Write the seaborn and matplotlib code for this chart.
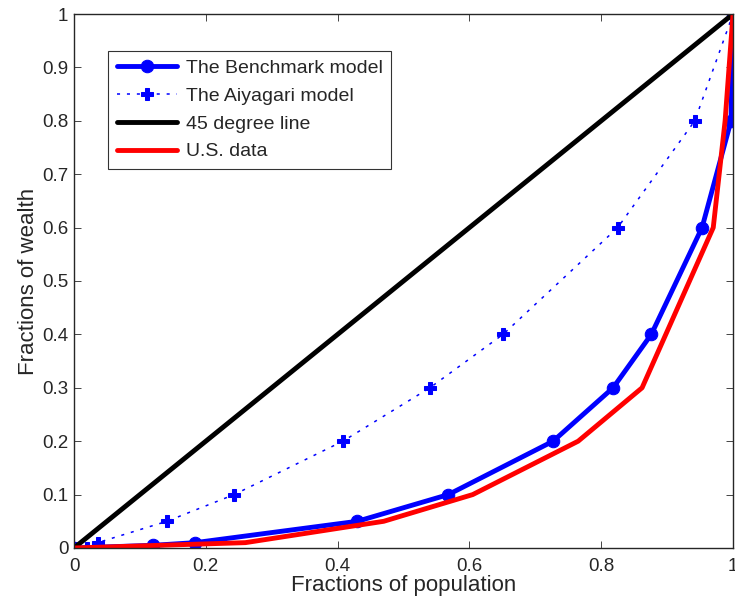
import numpy as np
import pandas as pd
import matplotlib
matplotlib.use('Agg')
import matplotlib.pyplot as plt
import seaborn as sns

# ==========================================
# 資料
# ==========================================
bench_x = [0.0, 0.12, 0.184, 0.43, 0.568, 0.727, 0.818, 0.876, 0.953, 0.997, 1.0]
bench_y = [0.0, 0.005, 0.01, 0.05, 0.1, 0.2, 0.3, 0.4, 0.6, 0.8, 1.0]

aiya_x = [0.0, 0.02, 0.036, 0.141, 0.243, 0.408, 0.54, 0.651, 0.825, 0.942, 1.0]
aiya_y = [0.0, 0.0, 0.01, 0.05, 0.1, 0.2, 0.3, 0.4, 0.6, 0.8, 1.0]

line45_x = [0.0, 1.0]
line45_y = [0.0, 1.0]

us_x = [0.0, 0.26, 0.47, 0.605, 0.765, 0.862, 0.97, 0.988, 1.0]
us_y = [0.0, 0.01, 0.05, 0.1, 0.2, 0.3, 0.6, 0.8, 1.0]

sns.set_style('ticks')
plt.rcParams['font.family'] = ['Liberation Sans', 'DejaVu Sans']

fig = plt.figure(figsize=(7.35, 6.12), dpi=100)
ax = fig.add_axes([0.1007, 0.1046, 0.8966, 0.8725])

sns.lineplot(x=bench_x, y=bench_y, sort=False, estimator=None, ax=ax,
             color='#0000ff', linewidth=3.5, marker='o', markersize=9,
             markeredgecolor='#0000ff', label='The Benchmark model')
sns.lineplot(x=aiya_x, y=aiya_y, sort=False, estimator=None, ax=ax,
             color='#0000ff', linewidth=1.1, linestyle=(0, (2, 4.5)),
             marker='P', markersize=9, markeredgecolor='#0000ff',
             label='The Aiyagari model')
sns.lineplot(x=line45_x, y=line45_y, sort=False, estimator=None, ax=ax,
             color='black', linewidth=3.5, label='45 degree line')
sns.lineplot(x=us_x, y=us_y, sort=False, estimator=None, ax=ax,
             color='#ff0000', linewidth=3.5, label='U.S. data')

ax.set_xlim(0, 1)
ax.set_ylim(0, 1)
ax.set_xticks(np.arange(0, 1.01, 0.2))
ax.set_xticklabels(['0', '0.2', '0.4', '0.6', '0.8', '1'])
ax.set_yticks(np.arange(0, 1.01, 0.1))
ax.set_yticklabels(['0', '0.1', '0.2', '0.3', '0.4', '0.5', '0.6', '0.7', '0.8', '0.9', '1'])
ax.tick_params(direction='in', top=True, right=True, labelsize=13.5,
               length=5, width=0.6)
ax.tick_params(axis='x', pad=7)
ax.tick_params(axis='y', pad=4)
for sp in ax.spines.values():
    sp.set_linewidth(1.0)
    sp.set_visible(True)
ax.set_xlabel('Fractions of population', fontsize=16, labelpad=0)
ax.set_ylabel('Fractions of wealth', fontsize=16, labelpad=2)

leg = ax.legend(loc='upper left', bbox_to_anchor=(0.0516, 0.931),
                fontsize=14, handlelength=3.1, frameon=True, fancybox=False,
                edgecolor='black', borderaxespad=0, labelspacing=0.52,
                handletextpad=0.45, borderpad=0.45)
leg.get_frame().set_linewidth(0.8)

plt.savefig('out.png', dpi=100)
